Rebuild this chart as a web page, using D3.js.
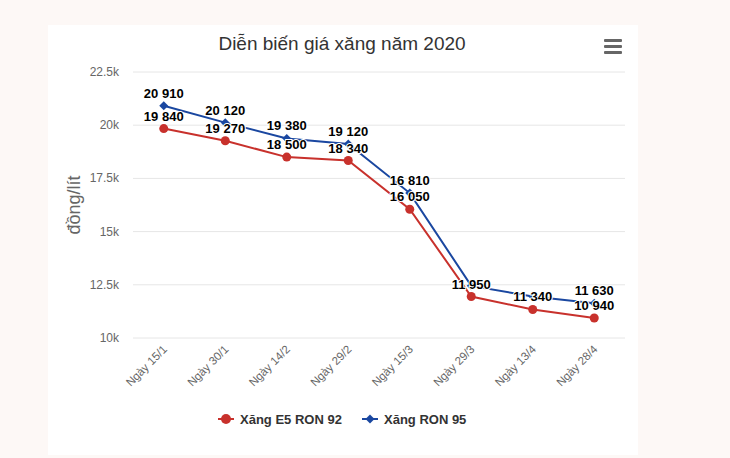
<!DOCTYPE html>
<html><head><meta charset="utf-8">
<script src="https://cdn.jsdelivr.net/npm/d3@7"></script>
<style>
body{margin:0;background:#fdf8f6;font-family:"Liberation Sans",Arial,sans-serif;}
</style></head><body>
<svg id="chart" width="730" height="458"></svg>
<script>
const categories = ['Ngày 15/1','Ngày 30/1','Ngày 14/2','Ngày 29/2','Ngày 15/3','Ngày 29/3','Ngày 13/4','Ngày 28/4'];
const e5Values = [19840,19270,18500,18340,16050,11950,11340,10940];
const ron95Values = [20910,20120,19380,19120,16810,12450,11950,11630];
const ron95Labels = ['20 910','20 120','19 380','19 120','16 810','','','11 630'];
const e5Labels = ['19 840','19 270','18 500','18 340','16 050','11 950','11 340','10 940'];
const yTicks = [10000,12500,15000,17500,20000,22500];
const yTickLabels = ['10k','12.5k','15k','17.5k','20k','22.5k'];

const svg = d3.select('#chart');
svg.append('rect').attr('x',48).attr('y',25).attr('width',590).attr('height',430).attr('fill','#fff');

const x = d3.scaleBand().domain(categories).range([133,625]);
const y = d3.scaleLinear().domain([10000,22500]).range([338,72]);
const cx = d => x(d) + x.bandwidth()/2;

svg.append('text').attr('x',342).attr('y',50).attr('text-anchor','middle')
  .attr('font-size',19).attr('fill','#333').text('Diễn biến giá xăng năm 2020');

// menu icon
[0,6,12].forEach(o => svg.append('rect').attr('x',604).attr('y',39+o).attr('width',18).attr('height',3).attr('rx',1).attr('fill','#666'));

svg.selectAll('.grid').data(yTicks).enter().append('line')
  .attr('x1',133).attr('x2',625).attr('y1',d=>y(d)).attr('y2',d=>y(d))
  .attr('stroke','#e6e6e6');
svg.selectAll('.yl').data(yTicks).enter().append('text')
  .attr('x',119).attr('y',d=>y(d)+4).attr('text-anchor','end')
  .attr('font-size',12).attr('fill','#666').text((d,i)=>yTickLabels[i]);
svg.append('text').attr('transform','translate(80,205) rotate(-90)')
  .attr('text-anchor','middle').attr('font-size',18).attr('fill','#666').text('đồng/lít');

svg.selectAll('.xl').data(categories).enter().append('text')
  .attr('transform',d=>`translate(${cx(d)+4},${350}) rotate(-45)`)
  .attr('text-anchor','end').attr('font-size',11.5).attr('fill','#666').text(d=>d);

const line = d3.line().x((d,i)=>cx(categories[i])).y(d=>y(d));
svg.append('path').datum(e5Values).attr('d',line).attr('fill','none').attr('stroke','#c8312c').attr('stroke-width',2);
svg.append('path').datum(ron95Values).attr('d',line).attr('fill','none').attr('stroke','#1a47a0').attr('stroke-width',2);

svg.selectAll('.e5').data(e5Values).enter().append('circle')
  .attr('cx',(d,i)=>cx(categories[i])).attr('cy',d=>y(d)).attr('r',4.5).attr('fill','#c8312c');
const diamond = d3.symbol().type(d3.symbolSquare).size(40);
svg.selectAll('.r95').data(ron95Values).enter().append('path')
  .attr('d',diamond)
  .attr('transform',(d,i)=>`translate(${cx(categories[i])},${y(d)}) rotate(45)`).attr('fill','#1a47a0');

function labels(vals, labs){
  svg.selectAll(null).data(vals).enter().append('text')
    .attr('x',(d,i)=>cx(categories[i])).attr('y',d=>y(d)-8).attr('text-anchor','middle')
    .attr('font-size',13).attr('font-weight','bold').attr('fill','#000')
    .attr('stroke','#fff').attr('stroke-width',2).attr('paint-order','stroke')
    .text((d,i)=>labs[i]);
}
labels(ron95Values, ron95Labels);
labels(e5Values, e5Labels);

// legend
const lg = svg.append('g');
lg.append('line').attr('x1',218).attr('x2',234).attr('y1',419).attr('y2',419).attr('stroke','#c8312c').attr('stroke-width',2);
lg.append('circle').attr('cx',226).attr('cy',419).attr('r',5).attr('fill','#c8312c');
lg.append('text').attr('x',240).attr('y',424).attr('font-size',13).attr('font-weight','bold').attr('fill','#333').text('Xăng E5 RON 92');
lg.append('line').attr('x1',362).attr('x2',378).attr('y1',419).attr('y2',419).attr('stroke','#1a47a0').attr('stroke-width',2);
lg.append('path').attr('d',diamond).attr('transform','translate(370,419) rotate(45)').attr('fill','#1a47a0');
lg.append('text').attr('x',384).attr('y',424).attr('font-size',13).attr('font-weight','bold').attr('fill','#333').text('Xăng RON 95');
</script></body></html>
